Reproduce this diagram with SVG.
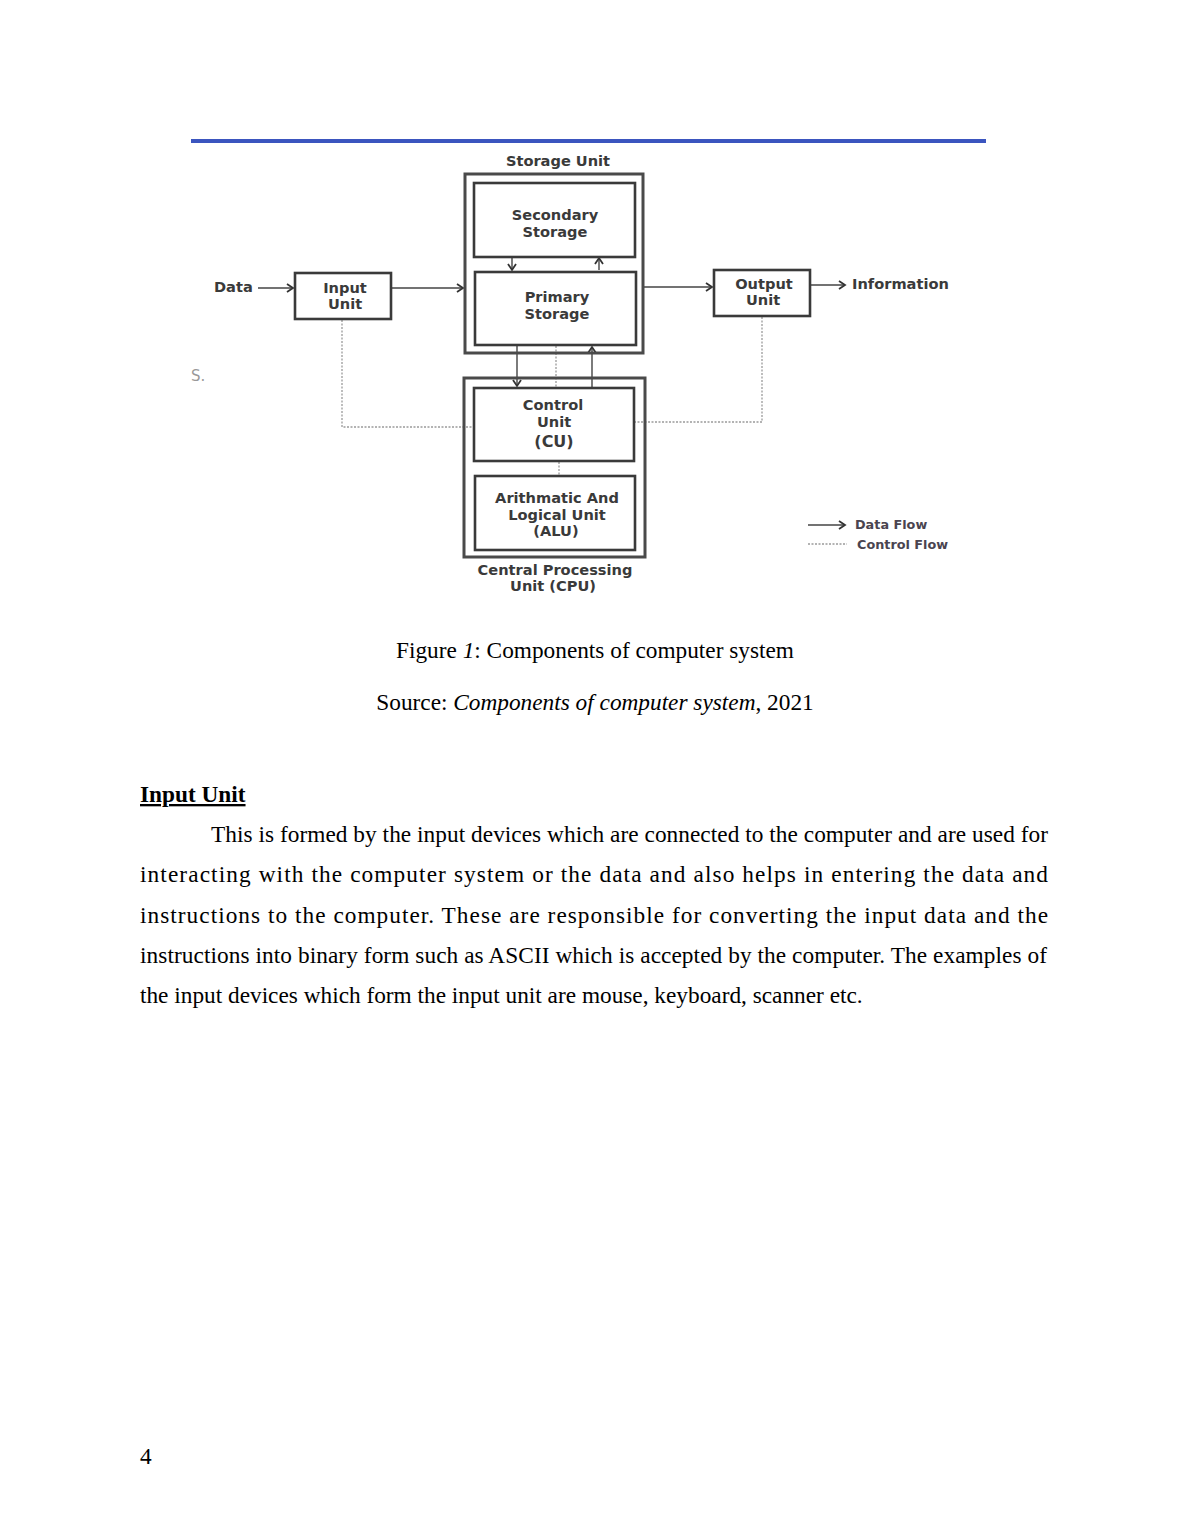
<svg xmlns="http://www.w3.org/2000/svg" width="1190" height="1540" viewBox="0 0 1190 1540">
<style>
.box{fill:none;stroke:#3a3a3a;stroke-width:2.6}
.outer{fill:none;stroke:#4a4a4a;stroke-width:3}
.lbl{font-family:"DejaVu Sans",Verdana,sans-serif;font-weight:bold;font-size:14.6px;fill:#3a3a3a;text-anchor:middle}
.lbl2{font-family:"DejaVu Sans",Verdana,sans-serif;font-weight:bold;font-size:14.6px;fill:#3a3a3a}
.leg{font-family:"DejaVu Sans",Verdana,sans-serif;font-weight:bold;font-size:12.8px;fill:#4a4450}
.data{fill:none;stroke:#444;stroke-width:1.4}
.ctrl{fill:none;stroke:#9a9a9a;stroke-width:1.3;stroke-dasharray:2,1.5}
.body{font-family:"Liberation Serif","Times New Roman",serif;font-size:23.3px;fill:#000}
</style>
<defs>
<marker id="arr" markerWidth="10" markerHeight="10" refX="7" refY="5" orient="auto" markerUnits="userSpaceOnUse">
<path d="M1,1 L7,5 L1,9" fill="none" stroke="#333" stroke-width="1.8"/>
</marker>
</defs>
<rect width="1190" height="1540" fill="#fff"/>
<path d="M191,141 L986,141" stroke="#3b55bf" stroke-width="4"/>
<text x="191" y="381" font-family="DejaVu Sans,sans-serif" font-size="15" fill="#999">S.</text>

<g id="connectors">
<line class="data" x1="258" y1="288" x2="293" y2="288" marker-end="url(#arr)"/>
<line class="data" x1="391" y1="288" x2="463" y2="288" marker-end="url(#arr)"/>
<line class="data" x1="643" y1="287" x2="712" y2="287" marker-end="url(#arr)"/>
<line class="data" x1="810" y1="285" x2="845" y2="285" marker-end="url(#arr)"/>
<line class="data" x1="512" y1="258" x2="512" y2="270" marker-end="url(#arr)"/>
<line class="data" x1="599" y1="270" x2="599" y2="258" marker-end="url(#arr)"/>
<line class="data" x1="517" y1="346" x2="517" y2="386" marker-end="url(#arr)"/>
<line class="data" x1="592" y1="387" x2="592" y2="347" marker-end="url(#arr)"/>
<line class="ctrl" x1="556" y1="346" x2="556" y2="388"/>
<line class="ctrl" x1="559" y1="462" x2="559" y2="476"/>
<polyline class="ctrl" points="342,320 342,427 473,427"/>
<polyline class="ctrl" points="762,317 762,422 635,422"/>
<line class="data" x1="808" y1="525" x2="845" y2="525" marker-end="url(#arr)"/>
<line class="ctrl" x1="808" y1="544" x2="847" y2="544"/>
</g>

<g id="storage-unit">
<rect class="outer" x="465" y="174" width="178" height="179"/>
<text class="lbl" x="558" y="166">Storage Unit</text>
</g>
<g id="secondary-storage">
<rect class="box" x="474" y="183" width="161" height="74"/>
<text class="lbl" x="555" y="220">Secondary</text>
<text class="lbl" x="555" y="237">Storage</text>
</g>
<g id="primary-storage">
<rect class="box" x="475" y="272" width="161" height="73"/>
<text class="lbl" x="557" y="302">Primary</text>
<text class="lbl" x="557" y="319">Storage</text>
</g>
<g id="input-unit">
<rect class="box" x="295" y="273" width="96" height="46"/>
<text class="lbl" x="345" y="293">Input</text>
<text class="lbl" x="345" y="309">Unit</text>
</g>
<g id="output-unit">
<rect class="box" x="714" y="270" width="96" height="46"/>
<text class="lbl" x="764" y="289">Output</text>
<text class="lbl" x="763" y="305">Unit</text>
</g>
<g id="data-label"><text class="lbl2" x="214" y="292">Data</text></g>
<g id="information-label"><text class="lbl2" x="852" y="289">Information</text></g>
<g id="cpu">
<rect class="outer" x="464" y="378" width="181" height="179"/>
<text class="lbl" x="555" y="575">Central Processing</text>
<text class="lbl" x="553" y="591">Unit (CPU)</text>
</g>
<g id="control-unit">
<rect class="box" x="474" y="388" width="160" height="73"/>
<text class="lbl" x="553" y="410">Control</text>
<text class="lbl" x="554" y="427">Unit</text>
<text class="lbl" x="554" y="447" style="font-size:16px">(CU)</text>
</g>
<g id="alu">
<rect class="box" x="475" y="476" width="160" height="74"/>
<text class="lbl" x="557" y="503">Arithmatic And</text>
<text class="lbl" x="557" y="520">Logical Unit</text>
<text class="lbl" x="556" y="536">(ALU)</text>
</g>
<g id="legend">
<text class="leg" x="855" y="529">Data Flow</text>
<text class="leg" x="857" y="549">Control Flow</text>
</g>

<text class="body" x="595" y="658" text-anchor="middle">Figure <tspan font-style="italic">1</tspan>: Components of computer system</text>
<text class="body" x="595" y="710" text-anchor="middle">Source: <tspan font-style="italic">Components of computer system</tspan>, 2021</text>
<text class="body" x="140" y="802" font-weight="bold" text-decoration="underline">Input Unit</text>
<text class="body" x="211" y="842" textLength="837" lengthAdjust="spacing">This is formed by the input devices which are connected to the computer and are used for</text>
<text class="body" x="140" y="882" textLength="908" lengthAdjust="spacing">interacting with the computer system or the data and also helps in entering the data and</text>
<text class="body" x="140" y="923" textLength="908" lengthAdjust="spacing">instructions to the computer. These are responsible for converting the input data and the</text>
<text class="body" x="140" y="963" textLength="907" lengthAdjust="spacing">instructions into binary form such as ASCII which is accepted by the computer. The examples of</text>
<text class="body" x="140" y="1003">the input devices which form the input unit are mouse, keyboard, scanner etc.</text>
<text class="body" x="140" y="1464">4</text>
</svg>
